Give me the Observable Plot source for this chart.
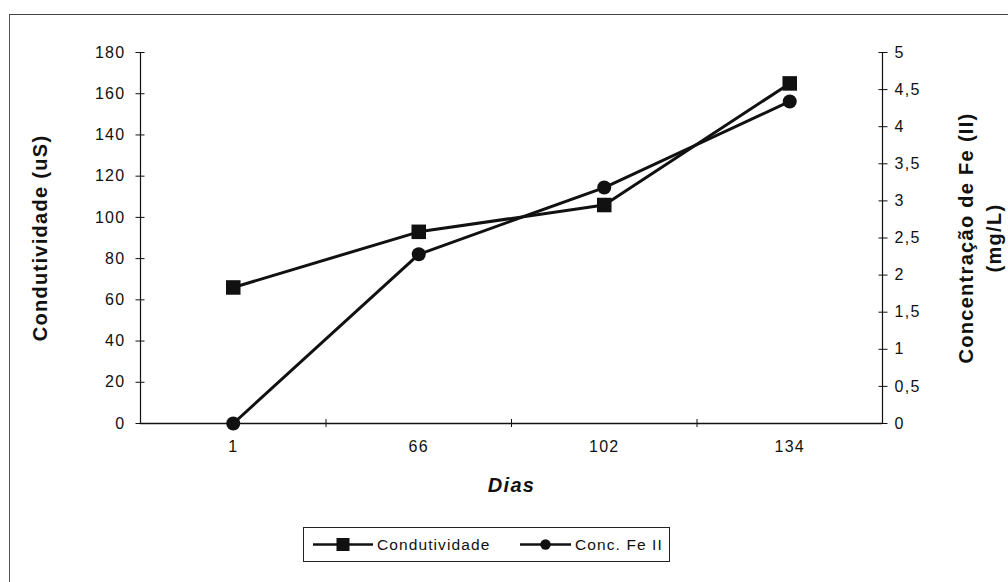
<!DOCTYPE html>
<html>
<head>
<meta charset="utf-8">
<script src="https://cdn.jsdelivr.net/npm/d3@7"></script>
<script src="https://cdn.jsdelivr.net/npm/@observablehq/plot@0.6"></script>
<style>
  html, body { margin: 0; padding: 0; background: #fff; }
  #wrap { position: relative; width: 1008px; height: 582px; overflow: hidden; font-family: "Liberation Sans", Arial, sans-serif; color: #111; }
  #border { position: absolute; left: 9px; top: 14px; right: -2px; bottom: -2px; border-left: 1px solid #555; border-top: 1px solid #444; }
  #chart { position: absolute; left: 0; top: 0; }
  #chart svg text { letter-spacing: 1.3px; }
  #legend { position: absolute; left: 303px; top: 527px; width: 365px; height: 33px; border: 1px solid #222; background: #fff; }
  #legend .item { position: absolute; top: 0; height: 33px; display: flex; align-items: center; font-size: 15.5px; letter-spacing: 1.1px; }
  #legend svg { display: block; }
</style>
</head>
<body>
<div id="wrap">
  <div id="border"></div>
  <div id="chart"></div>
  <div id="legend"></div>
</div>
<script>
// ---- data ----
const dias = ["1", "66", "102", "134"];
const condutividade = [66, 93, 106, 165];
const feII = [0, 2.28, 3.18, 4.34];
const leftTicks = [0, 20, 40, 60, 80, 100, 120, 140, 160, 180];
const rightTicks = [0, 0.5, 1, 1.5, 2, 2.5, 3, 3.5, 4, 4.5, 5];
const seriesNames = ["Condutividade", "Conc. Fe II"];
const leftTitle = "Condutividade (uS)";
const rightTitle = "Concentração de Fe (II)\n(mg/L)";
const xTitle = "Dias";

// ---- derived ----
const leftMax = leftTicks[leftTicks.length - 1];
const rightMax = rightTicks[rightTicks.length - 1];
const k = leftMax / rightMax; // maps right axis onto left scale
const fmt = v => String(v).replace(".", ",");
const rows = dias.map((d, i) => ({ dia: d, pos: i + 1, cond: condutividade[i], fe: feII[i] }));
const bounds = dias.slice(1).map((d, i) => i + 1.5);

const ink = "#111";
const tickFont = 16;

const chart = Plot.plot({
  width: 1008,
  height: 510,
  marginLeft: 140,
  marginRight: 126,
  marginTop: 52,
  marginBottom: 87,
  x: { domain: [0.5, dias.length + 0.5] },
  y: { domain: [0, leftMax] },
  style: { fontFamily: "'Liberation Sans', Arial, sans-serif", fontSize: "16px", color: ink, background: "transparent" },
  marks: [
    Plot.ruleY([0], { stroke: ink, strokeWidth: 1.5 }),
    Plot.ruleX([0.5, dias.length + 0.5], { stroke: ink, strokeWidth: 1.2 }),
    Plot.axisY({ anchor: "left", ticks: leftTicks, tickFormat: d => String(d), tickSize: 9, dx: 4.5, tickPadding: 10.5, label: null, fontSize: tickFont, stroke: ink }),
    Plot.axisY({ anchor: "right", ticks: rightTicks.map(v => v * k), tickFormat: d => fmt(+(d / k).toFixed(2)), tickSize: 9, dx: -4.5, tickPadding: 7.5, label: null, fontSize: tickFont, stroke: ink }),
    Plot.axisX({ ticks: dias.map((d, i) => i + 1), tickFormat: d => dias[d - 1], tickSize: 0, tickPadding: 17, label: null, fontSize: tickFont }),
    Plot.axisX({ ticks: bounds, tickFormat: () => "", tickSize: 8, dy: -4, label: null, stroke: ink }),
    Plot.line(rows, { x: "pos", y: "cond", stroke: ink, strokeWidth: 3 }),
    Plot.dot(rows, { x: "pos", y: "cond", symbol: "square", r: 8.2, fill: ink, stroke: null }),
    Plot.line(rows, { x: "pos", y: d => d.fe * k, stroke: ink, strokeWidth: 3 }),
    Plot.dot(rows, { x: "pos", y: d => d.fe * k, symbol: "circle", r: 7, fill: ink, stroke: null }),
    Plot.text([leftTitle], { text: d => d, frameAnchor: "left", dx: -100, rotate: -90, textAnchor: "middle", lineAnchor: "middle", fontWeight: "bold", fontSize: 20, fill: ink }),
    Plot.text([rightTitle], { text: d => d, frameAnchor: "right", dx: 96, rotate: -90, textAnchor: "middle", lineAnchor: "middle", fontWeight: "bold", fontSize: 20, lineHeight: 1.4, fill: ink }),
    Plot.text([xTitle], { text: d => d, frameAnchor: "bottom", dy: 62, textAnchor: "middle", lineAnchor: "middle", fontWeight: "bold", fontStyle: "italic", fontSize: 20, fill: ink })
  ]
});
document.getElementById("chart").appendChild(chart);

// ---- legend ----
const legend = document.getElementById("legend");
const items = [
  { name: seriesNames[0], left: 9, symbol: "square", lineW: 60 },
  { name: seriesNames[1], left: 216, symbol: "circle", lineW: 51 }
];
for (const it of items) {
  const div = document.createElement("div");
  div.className = "item";
  div.style.left = it.left + "px";
  const w = it.lineW;
  const sym = it.symbol === "square"
    ? `<rect x="${w / 2 - 6.5}" y="4" width="13" height="13" fill="${ink}"/>`
    : `<circle cx="${w / 2}" cy="10.5" r="5.2" fill="${ink}"/>`;
  div.innerHTML = `<svg width="${w}" height="21"><line x1="0" x2="${w}" y1="10.5" y2="10.5" stroke="${ink}" stroke-width="2.5"/>${sym}</svg><span style="margin-left:4px">${it.name}</span>`;
  legend.appendChild(div);
}
</script>
</body>
</html>
